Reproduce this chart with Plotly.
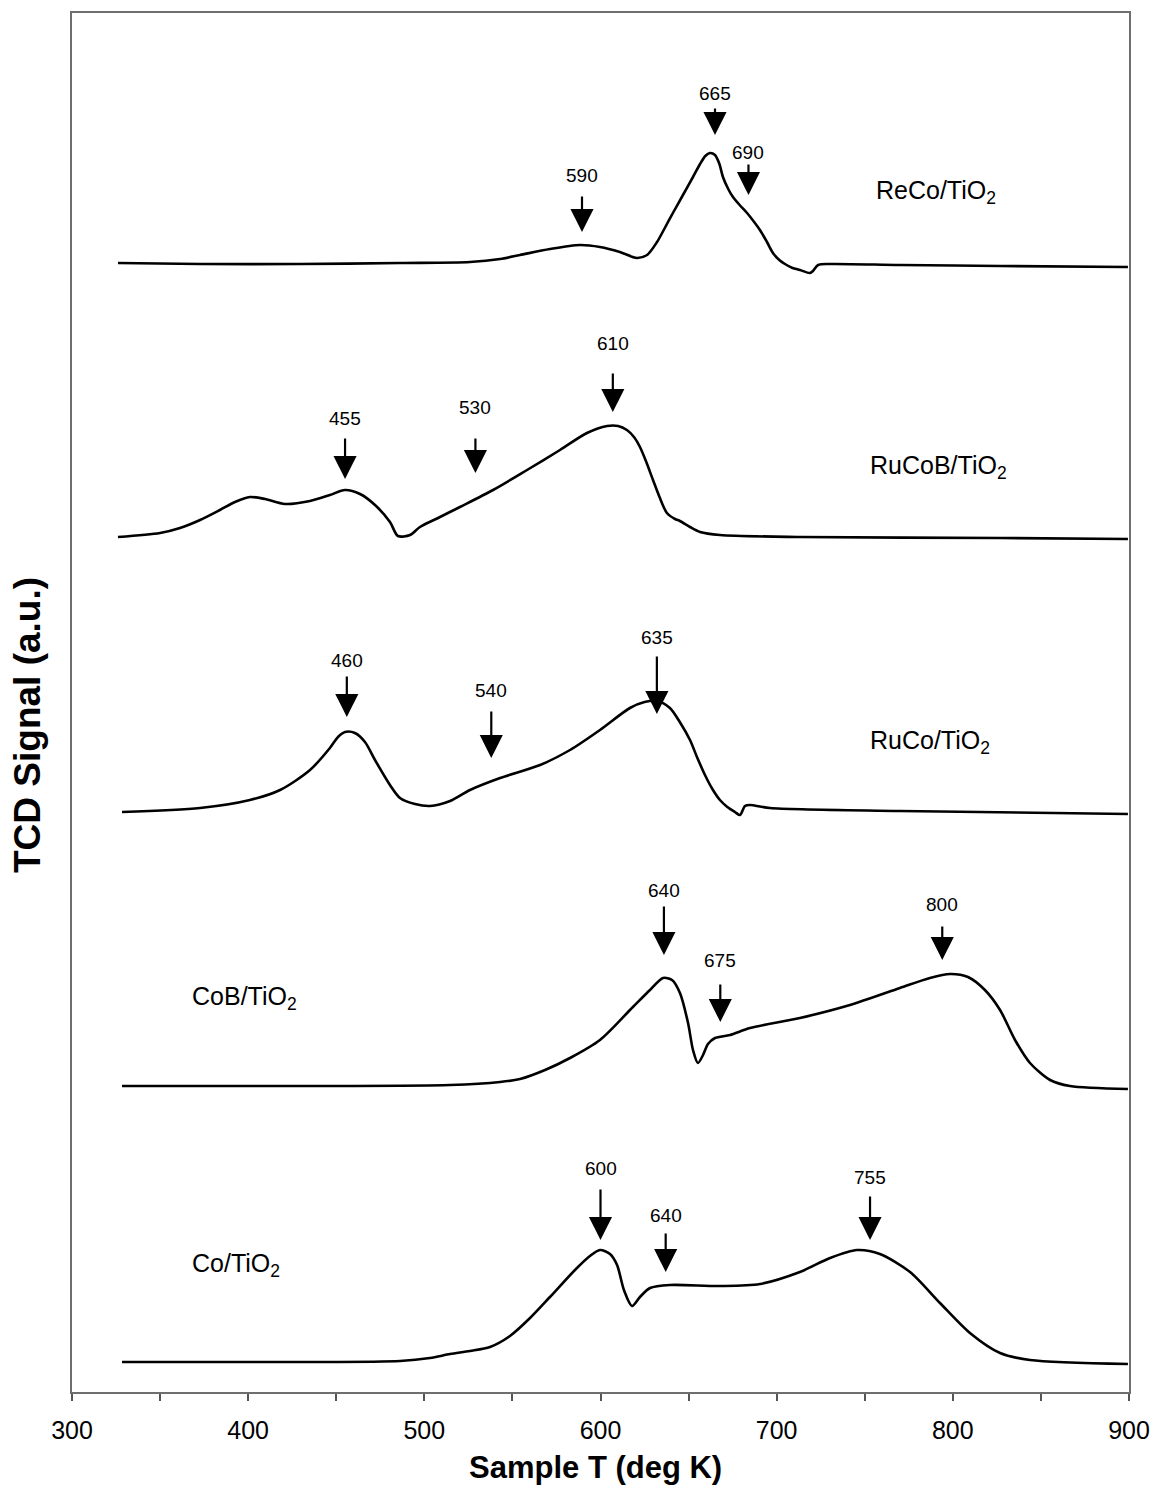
import plotly.graph_objects as go

# ---------------- data ----------------
# Temperatures (K) and TCD signal (a.u., height above each trace's own baseline)
T_reco = [326.1, 372.7, 429.4, 486.2, 525.9, 543.0, 554.3, 571.3, 588.4, 599.7, 611.0, 620.7,
          626.4, 632.1, 636.5, 641.1, 646.8, 652.5, 656.5, 659.5, 662.1, 665.0, 667.5, 669.5,
          672.5, 675.2, 679.0, 683.2, 686.8, 690.5, 694.5, 697.9, 701.5,
          704.7, 709.0, 713.2, 718.9, 720.6, 723.5, 730.3, 770.0, 826.8, 899.4]
S_reco = [2, 1, 1, 2, 3, 6, 10, 16, 20, 18, 13, 7,
          10, 23, 37, 52, 70, 88, 101, 109, 112, 110, 101, 88,
          76, 68, 60, 52, 44, 35, 23, 12, 5,
          1, -3, -5, -8, -6, 0, 1, 0, -1, -2]

T_rucob = [326.1, 350.0, 361.3, 372.7, 384.0, 392.5, 401.0, 409.6, 420.9, 435.1, 446.4, 455.0,
           463.5, 472.0, 480.5, 485.0, 491.9, 497.5, 508.9, 520.2, 539.0, 558.3, 577.0, 592.3,
           603.7, 610.0, 615.0, 619.0, 622.4, 626.0, 629.8, 633.5, 637.7, 642.3, 645.1, 650.8,
           656.5, 667.8, 713.2, 826.8, 899.4]
S_rucob = [0, 4, 9, 17, 27, 35, 40, 38, 33, 36, 42, 47,
           43, 32, 15, 1, 2, 10, 20, 30, 47, 67, 87, 104,
           111, 111, 107, 100, 90, 75, 57, 40, 24, 18, 16, 10,
           5, 2, 0, -1, -2]

T_ruco = [328.4, 372.7, 401.0, 418.1, 435.1, 446.4, 451.0, 455.0, 460.6, 466.3, 472.0, 480.5, 486.2,
          494.7, 503.2, 514.6, 525.9, 543.0, 565.7, 582.7, 599.7, 616.7, 625.0, 632.1, 639.4, 645.0,
          650.8, 655.0, 659.3, 663.5, 667.8, 672.0, 676.3, 679.2, 682.0, 684.9, 696.2, 770.0, 899.4]
S_ruco = [0, 4, 12, 22, 42, 64, 75, 80, 79, 70, 52, 27, 14,
          8, 6, 11, 22, 34, 47, 62, 82, 104, 110, 111, 104, 90,
          72, 54, 37, 23, 12, 5, 0, -3, 6, 7, 4, 1, -2]

T_cob = [328.4, 429.4, 514.6, 543.0, 554.3, 568.5, 582.7, 599.7, 618.4, 628.1, 635.5, 640.6,
         645.1, 649.7, 652.5, 655.3, 658.2, 661.0, 665.0, 673.5, 684.9, 713.2, 741.6, 770.0,
         787.0, 798.4, 808.6, 818.2, 826.8, 835.3, 843.8, 855.2, 866.5, 899.4]
S_cob = [1, 1, 2, 5, 8, 17, 29, 47, 80, 97, 109, 107,
         94, 64, 37, 24, 32, 43, 49, 52, 59, 69, 82, 99,
         109, 113, 110, 97, 77, 47, 24, 7, 1, -2]

T_co = [328.4, 429.4, 486.2, 503.2, 514.6, 525.9, 537.3, 548.6, 560.0, 571.3, 585.5, 594.0,
        599.7, 605.4, 609.4, 613.3, 617.9, 622.4, 628.1, 639.4, 667.8, 690.5, 713.2, 730.3,
        745.6, 758.6, 775.7, 792.7, 809.7, 826.8, 843.8, 899.4]
S_co = [0, 0, 1, 4, 8, 11, 15, 26, 44, 65, 92, 106,
        112, 108, 97, 72, 56, 65, 74, 77, 76, 78, 90, 104,
        112, 108, 90, 59, 29, 9, 2, -2]

series_T = [T_reco, T_rucob, T_ruco, T_cob, T_co]
series_S = [S_reco, S_rucob, S_ruco, S_cob, S_co]
series_names = ["ReCo/TiO<sub>2</sub>", "RuCoB/TiO<sub>2</sub>", "RuCo/TiO<sub>2</sub>",
                "CoB/TiO<sub>2</sub>", "Co/TiO<sub>2</sub>"]

# peak markers: labels, where the arrows point (T) and the signal level of the arrow tip
peak_labels = [["590", "665", "690"], ["455", "530", "610"], ["460", "540", "635"],
               ["640", "675", "800"], ["600", "640", "755"]]
peak_T = [[589.5, 665, 684], [455, 529, 607], [456, 538, 632],
          [636, 668, 794], [600, 637, 753]]
peak_tip = [[33, 130, 70], [58, 64, 125], [95, 54, 98],
            [132, 65, 127], [122, 90, 122]]

# ---------------- layout / style ----------------
offsets = [1127, 855, 580, 305, 30]          # vertical stacking offset of each trace
stem_len = [[37, 28, 32], [42, 36, 40], [42, 48, 59], [50, 39, 35], [52, 40, 45]]
label_gap = [[20, 14, 11], [19, 30, 29], [15, 20, 18], [15, 23, 21], [20, 17, 18]]
name_T = [755, 752, 752, 367, 367]
name_h = [73, 70, 70, 89, 97]

FONT = "Liberation Sans, Arial, sans-serif"

fig = go.Figure()
for Ts, Ss, off in zip(series_T, series_S, offsets):
    fig.add_trace(go.Scatter(
        x=Ts, y=[s + off for s in Ss], mode="lines",
        line=dict(color="black", width=2.6, shape="spline", smoothing=0.8),
        showlegend=False, hoverinfo="skip"))

annotations = []
for i in range(5):
    off = offsets[i]
    for lab, t, tip, sl, gap in zip(peak_labels[i], peak_T[i], peak_tip[i], stem_len[i], label_gap[i]):
        annotations.append(dict(
            x=t, y=off + tip, xref="x", yref="y", text="", showarrow=True,
            ax=0, ay=-sl, axref="pixel", ayref="pixel",
            arrowhead=2, arrowsize=2.1, arrowwidth=2.2, arrowcolor="black"))
        annotations.append(dict(
            x=t, y=off + tip, xref="x", yref="y", text=lab, showarrow=False,
            yshift=sl + gap, xanchor="center", yanchor="middle",
            font=dict(family=FONT, size=19, color="black")))
    annotations.append(dict(
        x=name_T[i], y=off + name_h[i], xref="x", yref="y", text=series_names[i],
        showarrow=False, xanchor="left", yanchor="middle",
        font=dict(family=FONT, size=25, color="black")))

annotations.append(dict(
    x=0.4957, y=0, xref="paper", yref="paper", yshift=-75, text="<b>Sample T (deg K)</b>",
    showarrow=False, xanchor="center", yanchor="middle",
    font=dict(family=FONT, size=31, color="black")))
annotations.append(dict(
    x=0, y=0.4837, xref="paper", yref="paper", xshift=-44, text="<b>TCD Signal (a.u.)</b>",
    textangle=-90, showarrow=False, xanchor="center", yanchor="middle",
    font=dict(family=FONT, size=37, color="black")))

fig.update_layout(
    width=1153, height=1489,
    margin=dict(l=72, r=24, t=13, b=97),
    paper_bgcolor="white", plot_bgcolor="white",
    annotations=annotations,
    xaxis=dict(range=[300, 900], dtick=100, tick0=300, ticks="outside", ticklen=7,
               tickcolor="#555", tickwidth=1.5,
               minor=dict(dtick=50, ticks="outside", ticklen=7, tickcolor="#555", tickwidth=1.5),
               showgrid=False, zeroline=False, showline=True, linecolor="#6e6e6e",
               linewidth=2, mirror=True, ticklabelstandoff=8, automargin=False,
               ticklabeloverflow="allow",
               tickfont=dict(family=FONT, size=25, color="black")),
    yaxis=dict(range=[0, 1379], showticklabels=False, ticks="", showgrid=False, automargin=False,
               zeroline=False, showline=True, linecolor="#6e6e6e", linewidth=2, mirror=True),
)

fig.write_html("out.html")
